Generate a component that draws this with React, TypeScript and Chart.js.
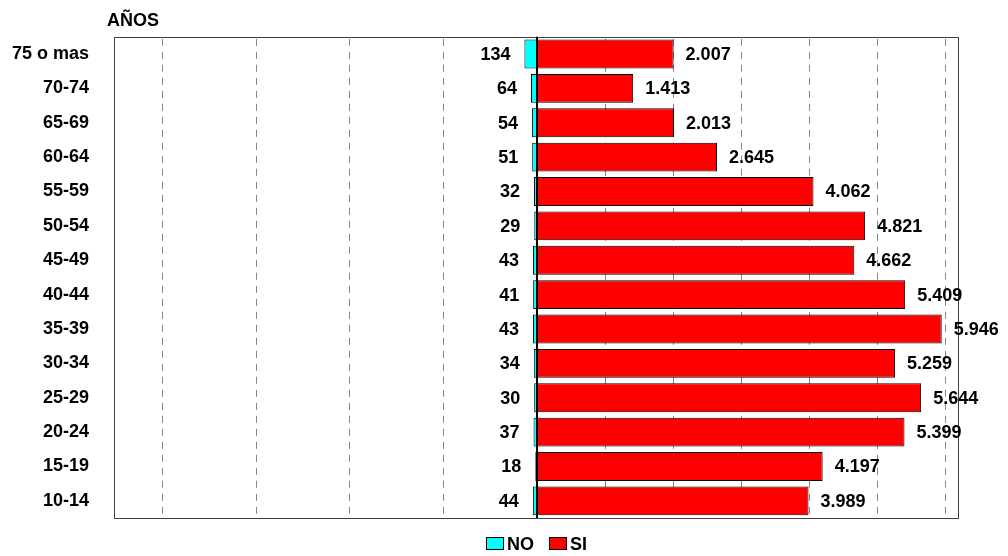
import React, { useEffect, useRef } from 'react';
import { Chart, registerables } from 'chart.js';

Chart.register(...registerables);

const categories = ['75 o mas', '70-74', '65-69', '60-64', '55-59', '50-54', '45-49', '40-44', '35-39', '30-34', '25-29', '20-24', '15-19', '10-14'];
const noValues = [134, 64, 54, 51, 32, 29, 43, 41, 43, 34, 30, 37, 18, 44];
const siValues = [2007, 1413, 2013, 2645, 4062, 4821, 4662, 5409, 5946, 5259, 5644, 5399, 4197, 3989];
const seriesNames = ['NO', 'SI'];
const axisTitle = 'AÑOS';
const noAxisMax = 4500;
const siAxisMax = 6200;
const noGridTicks = [1000, 2000, 3000, 4000];
const siGridTicks = [1000, 2000, 3000, 4000, 5000, 6000];

const FONT = '"Liberation Sans", Arial, Helvetica, sans-serif';
const NO_COLOR = '#00FFFF';
const SI_COLOR = '#FF0000';

const fmt = (n: number) => String(n).replace(/\B(?=(\d{3})+(?!\d))/g, '.');

const gridPlugin = {
  id: 'dashedGrid',
  beforeDatasetsDraw(chart: any) {
    const { ctx, chartArea: a } = chart;
    ctx.save();
    ctx.strokeStyle = '#858585';
    ctx.lineWidth = 1;
    ctx.setLineDash([7, 6]);
    const draw = (scale: any, vals: number[]) => {
      vals.forEach((v) => {
        const x = Math.round(scale.getPixelForValue(v)) + 0.5;
        ctx.beginPath();
        ctx.moveTo(x, a.top + 2);
        ctx.lineTo(x, a.bottom);
        ctx.stroke();
      });
    };
    draw(chart.scales.xL, noGridTicks);
    draw(chart.scales.xR, siGridTicks);
    ctx.restore();
  },
};

const decorPlugin = {
  id: 'decor',
  afterDatasetsDraw(chart: any) {
    const { ctx, chartArea: a } = chart;
    const zero = chart.scales.xR.getPixelForValue(0);
    ctx.save();
    // plot border
    ctx.strokeStyle = '#404040';
    ctx.lineWidth = 1;
    ctx.strokeRect(Math.round(a.left) - 0.5, Math.round(a.top) + 0.5, Math.round(a.right - a.left), Math.round(a.bottom - a.top));
    // zero line
    ctx.strokeStyle = '#000';
    ctx.lineWidth = 2;
    ctx.beginPath();
    ctx.moveTo(Math.round(zero), a.top);
    ctx.lineTo(Math.round(zero), a.bottom);
    ctx.stroke();
    // value labels
    ctx.font = `bold 18px ${FONT}`;
    ctx.fillStyle = '#000';
    ctx.textBaseline = 'middle';
    chart.getDatasetMeta(0).data.forEach((el: any, i: number) => {
      ctx.textAlign = 'right';
      ctx.fillText(fmt(noValues[i]), el.x - 14, el.y + 1);
    });
    chart.getDatasetMeta(1).data.forEach((el: any, i: number) => {
      ctx.textAlign = 'left';
      ctx.fillText(fmt(siValues[i]), el.x + 12, el.y + 1);
    });
    // axis title
    ctx.textAlign = 'left';
    ctx.textBaseline = 'alphabetic';
    ctx.fillText(axisTitle, 107, 26);
    // legend
    const items = [
      { text: seriesNames[0], color: NO_COLOR, x: 486 },
      { text: seriesNames[1], color: SI_COLOR, x: 549 },
    ];
    items.forEach((it) => {
      ctx.fillStyle = it.color;
      ctx.fillRect(it.x, 537, 17, 12);
      ctx.strokeStyle = '#000';
      ctx.lineWidth = 1;
      ctx.strokeRect(it.x + 0.5, 537.5, 17, 12);
      ctx.fillStyle = '#000';
      ctx.fillText(it.text, it.x + 21, 550);
    });
    ctx.restore();
  },
};

export default function App() {
  const canvasRef = useRef<HTMLCanvasElement | null>(null);

  useEffect(() => {
    document.body.style.margin = '0';
    const canvas = canvasRef.current;
    if (!canvas) return;
    const chart = new Chart(canvas, {
      type: 'bar',
      data: {
        labels: categories,
        datasets: [
          {
            label: seriesNames[0],
            data: noValues,
            xAxisID: 'xL',
            yAxisID: 'y',
            backgroundColor: NO_COLOR,
            borderColor: '#000',
            borderWidth: 1,
            borderSkipped: false,
            grouped: false,
            barPercentage: 0.84,
            categoryPercentage: 1,
          },
          {
            label: seriesNames[1],
            data: siValues,
            xAxisID: 'xR',
            yAxisID: 'y',
            backgroundColor: SI_COLOR,
            borderColor: '#000',
            borderWidth: 1,
            borderSkipped: false,
            grouped: false,
            barPercentage: 0.84,
            categoryPercentage: 1,
          },
        ],
      },
      options: {
        indexAxis: 'y',
        responsive: false,
        animation: false,
        devicePixelRatio: 1,
        layout: { padding: { top: 36, bottom: 38, right: 49, left: 0 } },
        plugins: { legend: { display: false }, tooltip: { enabled: false }, title: { display: false } },
        scales: {
          xL: {
            type: 'linear',
            position: 'bottom',
            stack: 'x',
            stackWeight: 1,
            reverse: true,
            bounds: 'data',
            min: 0,
            max: noAxisMax,
            ticks: { display: false },
            grid: { display: false, drawTicks: false },
            border: { display: false },
          },
          xR: {
            type: 'linear',
            position: 'bottom',
            stack: 'x',
            stackWeight: 1,
            bounds: 'data',
            min: 0,
            max: siAxisMax,
            ticks: { display: false },
            grid: { display: false, drawTicks: false },
            border: { display: false },
          },
          y: {
            type: 'category',
            position: 'left',
            grid: { display: false, drawTicks: false },
            border: { display: false },
            ticks: { padding: 26, color: '#000', font: { family: FONT, size: 18, weight: 'bold' } },
            afterFit: (s: any) => {
              s.width = 115;
            },
          },
        },
      },
      plugins: [gridPlugin, decorPlugin],
    } as any);
    return () => chart.destroy();
  }, []);

  return (
    <div style={{ position: 'absolute', left: 0, top: 0, width: 1008, height: 556, background: '#fff' }}>
      <canvas ref={canvasRef} width={1008} height={556} style={{ width: 1008, height: 556, display: 'block' }} />
    </div>
  );
}
